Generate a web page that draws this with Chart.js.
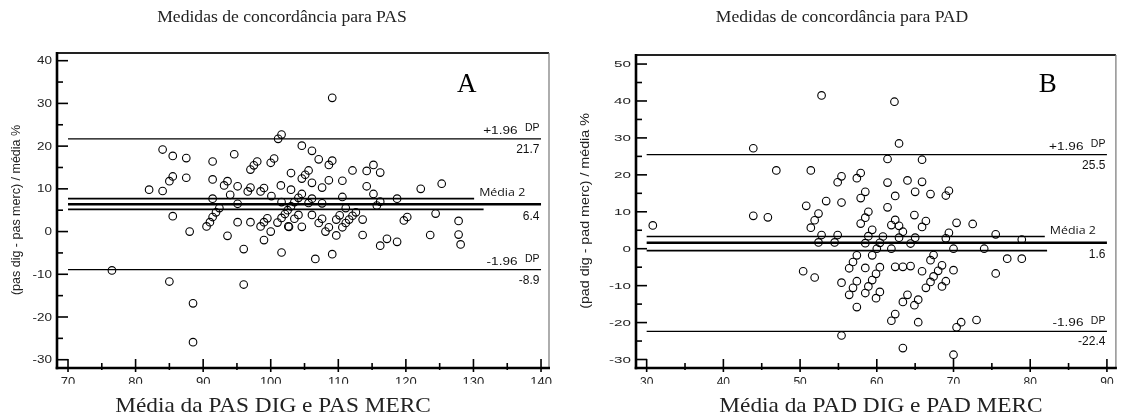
<!DOCTYPE html>
<html>
<head>
<meta charset="utf-8">
<script src="https://cdn.jsdelivr.net/npm/chart.js@4.4.1/dist/chart.umd.min.js"></script>
<style>
  body { margin: 0; background: #fff; }
  .painel { position: absolute; top: 0; }
</style>
</head>
<body>
<div class="painel" style="left:0"><canvas id="pas" width="560" height="416"></canvas></div>
<div class="painel" style="left:560px"><canvas id="pad" width="561" height="416"></canvas></div>
<script>
// PAS: média (x) e diferença % (y)
const pasMedia = [76.5, 82.0, 84.0, 84.0, 85.5, 87.5, 85.5, 85.0, 87.5, 85.5, 85.0, 88.0, 88.5, 88.5,
  91.4, 91.4, 91.4, 90.5, 91.0, 91.4, 91.9, 92.4, 94.6, 93.1, 93.6, 94.0, 95.1, 95.1, 95.1, 93.6,
  96.0, 96.0, 97.0, 97.0, 97.5, 98.0, 96.6, 97.0, 98.5, 99.0, 100.0, 100.5, 100.1, 101.5, 98.5, 99.0,
  99.5, 100.0, 99.0, 101.0, 101.6, 102.1, 102.5, 103.0, 103.5, 101.6, 102.6, 103.5, 101.6, 101.1,
  101.6, 103.0, 103.0, 109.1, 104.6, 106.1, 107.1, 108.6, 109.1, 112.1, 114.2, 115.2, 116.2, 105.6,
  105.1, 104.6, 106.1, 108.6, 110.6, 107.6, 114.2, 115.2, 122.2, 104.6, 104.1, 106.1, 105.6, 107.6,
  110.6, 111.1, 115.7, 116.2, 118.7, 104.1, 106.1, 104.6, 107.6, 107.1, 108.6, 108.1, 109.7, 110.2,
  109.7, 110.6, 111.1, 111.6, 112.1, 112.6, 113.6, 113.6, 119.7, 120.2, 124.4, 123.6, 116.2, 117.2,
  118.7, 109.1, 106.6, 125.3, 127.8, 127.8, 128.1, 102.7];
const pasDif = [-9.1, 9.8, 9.5, 19.2, 17.7, 17.2, 12.9, 11.8, 12.6, 3.6, -11.7, 0.0, -16.8, -25.9,
  16.4, 12.2, 7.7, 1.2, 2.2, 3.4, 4.5, 5.5, 18.1, 10.8, 11.8, 8.6, 10.6, 6.5, 2.2, -1.0,
  -4.1, -12.4, 2.2, 14.5, 15.5, 16.4, 9.4, 10.3, 9.4, 10.2, 16.1, 17.1, 8.3, 10.8, 1.2, 2.2,
  3.1, 0.0, -2.0, 2.1, 3.2, 4.1, 5.0, 5.9, 6.9, 6.9, 1.2, 3.0, -4.9, 21.7,
  22.7, 13.7, 9.8, 31.3, 20.1, 18.9, 16.9, 15.6, 16.6, 14.3, 14.2, 15.6, 13.8, 14.3,
  13.3, 12.4, 11.4, 12.0, 11.9, 10.3, 10.6, 8.8, 10.0, 8.8, 7.9, 7.7, 6.7, 6.6,
  8.1, 5.5, 6.1, 7.0, 7.7, 3.9, 3.9, 1.1, 3.0, 2.0, 1.0, 0.0, 2.8, 3.8,
  -0.9, 1.0, 2.0, 2.8, 3.7, 4.5, 2.8, -0.8, 2.6, 3.4, 4.2, -0.8, -3.3, -1.7,
  -2.4, -5.3, -6.4, 11.2, 2.5, -0.7, -3.0, 1.1];

// PAD: média (x) e diferença % (y)
const padMedia = [30.8, 43.9, 43.9, 45.8, 46.9, 51.4, 52.8, 50.8, 53.4, 54.9, 55.4, 55.4, 52.4, 51.9,
  51.4, 52.8, 54.9, 57.4, 57.9, 58.5, 57.9, 58.9, 58.5, 57.9, 59.4, 58.9, 52.4, 54.5, 58.5, 60.4,
  60.8, 60.0, 59.4, 57.4, 56.9, 56.4, 58.5, 60.4, 50.4, 51.9, 55.4, 57.4, 56.9, 56.4, 59.9, 59.4,
  58.9, 58.5, 60.4, 59.9, 57.4, 55.4, 62.3, 62.9, 61.4, 65.9, 61.4, 64.0, 65.9, 62.4, 65.0, 67.0,
  69.4, 69.0, 61.4, 64.9, 66.4, 65.9, 62.4, 61.9, 62.9, 63.4, 62.9, 70.4, 72.5, 69.4, 69.0, 65.0,
  64.4, 75.5, 78.9, 61.9, 70.0, 74.0, 77.0, 78.9, 75.5, 67.4, 67.0, 68.5, 68.0, 67.4, 67.0, 66.4,
  70.0, 69.0, 68.5, 65.9, 62.4, 63.4, 64.4, 64.0, 63.4, 65.4, 64.9, 62.4, 61.9, 65.4, 71.0, 70.4,
  73.0, 63.4, 70.0];
const padDif = [6.3, 27.2, 8.9, 8.5, 21.2, 21.2, 41.5, 11.6, 12.9, 18.0, 19.6, 12.5, 9.5, 7.7,
  5.7, 3.7, 3.7, 19.1, 20.5, 15.4, 13.7, 10.0, 8.4, 6.8, 5.1, 3.4, 1.7, 1.7, 1.5, 1.6,
  3.3, 0.0, -1.8, -1.8, -3.6, -5.3, -5.2, -5.0, -6.1, -7.8, -9.2, -8.8, -10.6, -12.5, -6.8, -8.5,
  -10.2, -12.0, -11.7, -13.4, -15.8, -23.5, 39.8, 28.5, 24.3, 24.1, 17.9, 18.5, 18.1, 14.3, 15.4, 14.8,
  15.7, 14.4, 11.2, 9.1, 7.5, 5.9, 7.8, 6.4, 6.2, 4.6, 3.0, 7.0, 6.7, 4.3, 2.8, 3.0,
  1.4, 3.9, 2.5, 0.0, 0.0, 0.0, -2.7, -2.7, -6.7, -1.7, -3.1, -4.5, -6.0, -7.5, -9.0, -10.6,
  -5.8, -8.8, -10.2, -6.1, -4.9, -4.9, -4.7, -12.5, -14.4, -13.8, -15.3, -17.7, -19.5, -19.9, -19.9, -21.3,
  -19.3, -26.9, -28.7];

const pasXTicks = [70, 80, 90, 100, 110, 120, 130, 140];
const pasYTicks = [-30, -20, -10, 0, 10, 20, 30, 40];
const padXTicks = [30, 40, 50, 60, 70, 80, 90];
const padYTicks = [-30, -20, -10, 0, 10, 20, 30, 40, 50];

// linhas: +1.96 DP, IC superior da média, média, IC inferior, -1.96 DP
const pasLinhas = [21.7, 7.7, 6.4, 5.2, -8.9];
const pasLinhasFim = [140, 130.1, 140, 131.5, 140];
const padLinhas = [25.5, 3.3, 1.6, -0.5, -22.4];
const padLinhasFim = [90, 81.9, 90, 82.2, 90];

const larguras = [1.2, 1.7, 2.6, 1.7, 1.2];

function txt(ctx, s, x, y, o) {
  ctx.save();
  ctx.font = o.font;
  ctx.fillStyle = o.color || '#111';
  ctx.textAlign = o.align || 'left';
  ctx.textBaseline = o.base || 'alphabetic';
  ctx.translate(x, y);
  if (o.rot) ctx.rotate(o.rot);
  ctx.scale(o.sx || 1, o.sy || 1);
  ctx.fillText(s, 0, 0);
  ctx.restore();
}

function seg(ctx, x0, y0, x1, y1) {
  ctx.beginPath(); ctx.moveTo(x0, y0); ctx.lineTo(x1, y1); ctx.stroke();
}

const deco = {
  id: 'deco',
  afterDatasetsDraw(chart, args, o) {
    const { ctx, chartArea: a, scales: { x, y } } = chart;
    ctx.save();
    // moldura
    ctx.strokeStyle = '#222'; ctx.lineWidth = 2;
    seg(ctx, a.left, a.top, a.right, a.top);
    ctx.strokeStyle = '#777'; ctx.lineWidth = 1.2;
    seg(ctx, a.right, a.top, a.right, a.bottom);
    ctx.strokeStyle = '#000'; ctx.lineWidth = 2.6;
    seg(ctx, a.left, a.top - 1, a.left, a.bottom + 1.3);
    seg(ctx, a.left - 1.3, a.bottom, a.right + 1, a.bottom);

    // marcas dos eixos
    const meios = t => t.slice(1).map((v, i) => (v + t[i]) / 2);
    ctx.lineWidth = 1.6;
    o.yTicks.forEach(v => { const p = y.getPixelForValue(v); seg(ctx, a.left, p, a.left + 11, p); });
    meios(o.yTicks).forEach(v => { const p = y.getPixelForValue(v); seg(ctx, a.left, p, a.left + 6, p); });
    o.xTicks.forEach(v => { const p = x.getPixelForValue(v); seg(ctx, p, a.bottom - 9, p, a.bottom + 4); });
    meios(o.xTicks).forEach(v => { const p = x.getPixelForValue(v); seg(ctx, p, a.bottom - 5, p, a.bottom + 2); });

    // rótulos dos eixos
    const fy = o.yLabFont;
    o.yTicks.forEach(v => txt(ctx, String(v), a.left - 5, y.getPixelForValue(v) + fy * 0.36,
      { font: fy + 'px "Liberation Sans", Arial, sans-serif', align: 'right', sx: o.yLabSx, color: '#222' }));
    ctx.save();
    ctx.beginPath(); ctx.rect(0, 0, chart.width, o.xLabClip); ctx.clip();
    o.xTicks.forEach(v => txt(ctx, String(v), x.getPixelForValue(v), o.xLabBase,
      { font: o.xLabFont + 'px "Liberation Sans", Arial, sans-serif', align: 'center', color: '#222' }));
    ctx.restore();

    // títulos
    txt(ctx, o.titulo, o.tituloX, o.tituloY, { font: o.tituloFont + 'px "Liberation Serif", serif', align: 'center', sx: 1.1, color: '#222' });
    txt(ctx, o.xTitulo, o.xTituloX, 412, { font: '21px "Liberation Serif", serif', align: 'center', sx: 1.11, color: '#222' });
    txt(ctx, o.yTitulo, o.yTituloX, o.yTituloY, { font: '12.5px "Liberation Sans", Arial, sans-serif', align: 'center', base: 'middle', rot: -Math.PI / 2, sx: o.yTituloSx, color: '#222' });
    txt(ctx, o.letra, x.getPixelForValue(o.letraX), 92, { font: '27px "Liberation Serif", serif', align: 'center', color: '#000' });

    // anotações das linhas
    const L = o.linhas, F = o.fim;
    const dir = x.getPixelForValue(F[0]) - 1.5;
    const sans = s => s + 'px "Liberation Sans", Arial, sans-serif';
    [[0, '+1.96'], [4, '-1.96']].forEach(([i, s]) => {
      const p = y.getPixelForValue(L[i]);
      txt(ctx, s, dir - 22, p - 5, { font: sans(11.5), align: 'right', sx: 1.18 });
      txt(ctx, 'DP', dir, p - 7.5, { font: sans(10.5), align: 'right' });
      txt(ctx, L[i].toFixed(1), dir, p + 14, { font: sans(12), align: 'right' });
    });
    const pm = y.getPixelForValue(L[2]);
    txt(ctx, 'Média 2', x.getPixelForValue(F[1]) + 5, pm - 8.5, { font: '11.5px "Open Sans", sans-serif', sx: 1.08 });
    txt(ctx, L[2].toFixed(1), dir, pm + 15.5, { font: sans(12), align: 'right' });
    ctx.restore();
  }
};

function grafico(id, mx, dif, linhas, fim, inicio, s) {
  const linhaSets = linhas.map((v, i) => ({
    type: 'line',
    data: [{ x: inicio, y: v }, { x: fim[i], y: v }],
    borderColor: '#000',
    borderWidth: larguras[i],
    pointRadius: 0,
    fill: false
  }));
  new Chart(document.getElementById(id), {
    type: 'scatter',
    data: {
      datasets: [{
        data: mx.map((v, i) => ({ x: v, y: dif[i] })),
        pointRadius: 3.8,
        pointBorderWidth: 1.1,
        pointBorderColor: '#000',
        pointBackgroundColor: 'rgba(0,0,0,0)'
      }, ...linhaSets]
    },
    options: {
      responsive: false,
      animation: false,
      devicePixelRatio: 1,
      layout: { padding: s.padding },
      scales: {
        x: { type: 'linear', min: s.xMin, max: s.xMax, display: false },
        y: { type: 'linear', min: s.yMin, max: s.yMax, display: false }
      },
      plugins: {
        legend: { display: false },
        tooltip: { enabled: false },
        deco: Object.assign({ linhas, fim }, s)
      }
    },
    plugins: [deco]
  });
}

grafico('pas', pasMedia, pasDif, pasLinhas, pasLinhasFim, 70, {
  padding: { left: 57, right: 11, top: 53, bottom: 48 },
  xMin: 68.37, xMax: 141.18, yMin: -31.94, yMax: 41.8,
  xTicks: pasXTicks, yTicks: pasYTicks,
  yLabFont: 10, yLabSx: 1.35, xLabFont: 13, xLabBase: 386, xLabClip: 383.8,
  titulo: 'Medidas de concordância para PAS', tituloX: 282, tituloY: 22, tituloFont: 16,
  xTitulo: 'Média da PAS DIG e PAS MERC', xTituloX: 273,
  yTitulo: '(pas dig - pas merc) / média %', yTituloX: 17, yTituloY: 210, yTituloSx: 1,
  letra: 'A', letraX: 129
});

grafico('pad', padMedia, padDif, padLinhas, padLinhasFim, 30, {
  padding: { left: 76, right: 2, top: 55, bottom: 48 },
  xMin: 28.61, xMax: 91.17, yMin: -32.3, yMax: 52.45,
  xTicks: padXTicks, yTicks: padYTicks,
  yLabFont: 9.5, yLabSx: 1.6, xLabFont: 12, xLabBase: 385.5, xLabClip: 383.8,
  titulo: 'Medidas de concordância para PAD', tituloX: 282, tituloY: 22, tituloFont: 16,
  xTitulo: 'Média da PAD DIG e PAD MERC', xTituloX: 321,
  yTitulo: '(pad dig - pad merc) / média %', yTituloX: 26, yTituloY: 211, yTituloSx: 1.14,
  letra: 'B', letraX: 82.3
});
</script>
</body>
</html>
